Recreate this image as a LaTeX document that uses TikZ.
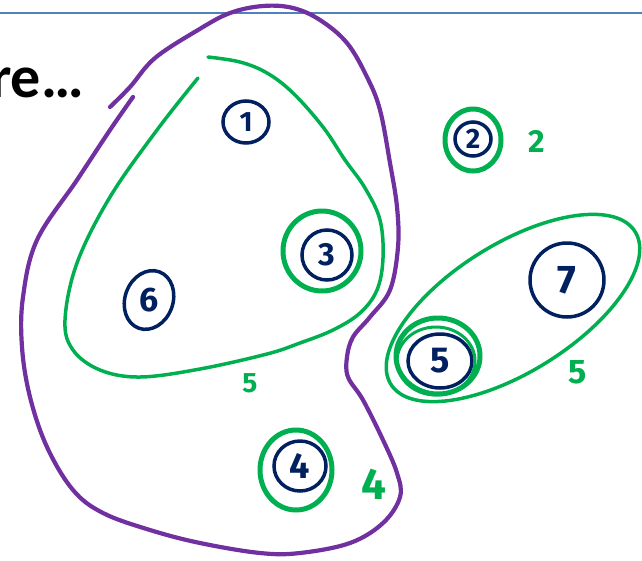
\documentclass[tikz,border=0pt]{standalone}
\usepackage{fontspec}
\setmainfont{Carlito}
\newfontfamily\hand{Fira Sans}
\usetikzlibrary{shapes.geometric}
\definecolor{purp}{HTML}{7030A0}
\definecolor{grn}{HTML}{00B050}
\definecolor{navy}{HTML}{002060}
\definecolor{rulecol}{HTML}{4F81BD}
\begin{document}
\begin{tikzpicture}[x=1pt,y=-1pt,
  num/.style={ellipse, draw=navy, line width=3.5pt, inner sep=0pt, text=navy,
    font=\hand\bfseries\fontsize{#1}{#1}\selectfont},
  num/.default=30,
  ring/.style={ellipse, draw=grn, line width=5pt, inner sep=0pt},
  lab/.style={text=grn, inner sep=0pt, font=\hand\bfseries\fontsize{#1}{#1}\selectfont},
  lab/.default=28,
  setline/.style={draw=grn, line width=3.5pt, line cap=round, line join=round},
  blob/.style={draw=purp, line width=4.2pt, line cap=round, line join=round}]
\useasboundingbox (0,0) rectangle (642,560);
\clip (0,0) rectangle (642,560);
% top rule
\draw[rulecol, line width=2pt] (0,12.5) -- (642,12.5);
% title fragment
\node[anchor=base east, inner sep=0pt, font=\bfseries\fontsize{60}{60}\selectfont] (title) at (84,97) {re…};
% purple blob
\draw[blob] plot[smooth, tension=0.6] coordinates {
  (133,97) (110,130) (77,180) (37,240) (23,297) (22,347) (30,397) (47,447)
  (73,490) (103,513) (150,530) (200,543) (260,553) (300,553) (350,543)
  (383,523) (400,497) (397,473) (383,440) (363,400) (348,377) (347,357)
  (353,337) (370,317) (390,290) (398,247) (397,207) (390,163) (380,110)
  (367,77) (347,43) (320,20) (293,8) (263,6) (230,13) (198,30) (155,58)
  (130,87) (110,107)};
% green set around 1,3,6
\draw[setline] plot[smooth, tension=0.6] coordinates {
  (208,57) (240,62) (267,73) (293,93) (323,127) (345,160) (365,188)
  (380,220) (383,258) (377,290) (360,313) (333,330) (300,343) (267,354)
  (200,369) (140,377) (100,370) (73,350) (65,320) (77,263) (110,197)
  (157,130) (198,78)};
% green set around 5,7
\node[ellipse, draw=grn, line width=3.5pt, minimum width=288, minimum height=128,
  rotate=32, inner sep=0pt] (s57) at (513,308) {};
% element nodes
\node[num=28, minimum width=46, minimum height=42] (n1) at (246,122) {1};
\node[num=28, minimum width=36, minimum height=34] (n2) at (473,139) {2};
\node[ring, minimum width=56, minimum height=62] (r2) at (473,140) {};
\node[num=32, minimum width=50, minimum height=50] (n3) at (327,255) {3};
\node[ring, minimum width=78, minimum height=80] (r3) at (322,251) {};
\node[num=34, minimum width=48, minimum height=60, rotate=-20] (n6) at (149,300) {\rotatebox{20}{6}};
\node[num=36, minimum width=52, minimum height=50] (n4) at (300,466) {4};
\node[ring, minimum width=72, minimum height=80] (r4) at (296,470) {};
\node[num=40, minimum width=74, minimum height=74] (n7) at (567,280) {7};
\node[num=36, minimum width=64, minimum height=54] (n5) at (440,361) {5};
\node[ring, minimum width=84, minimum height=76] (r5) at (438,356) {};
\node[ellipse, draw=grn, line width=3pt, minimum width=78, minimum height=68, inner sep=0pt] (r5b) at (436,361) {};
% size labels
\node[lab=32] (l2) at (537,141) {2};
\node[lab=28] (l136) at (250,383) {5};
\node[lab=34] (l57) at (578,372) {5};
\node[lab=44] (l4) at (374,484) {4};
\end{tikzpicture}
\end{document}
